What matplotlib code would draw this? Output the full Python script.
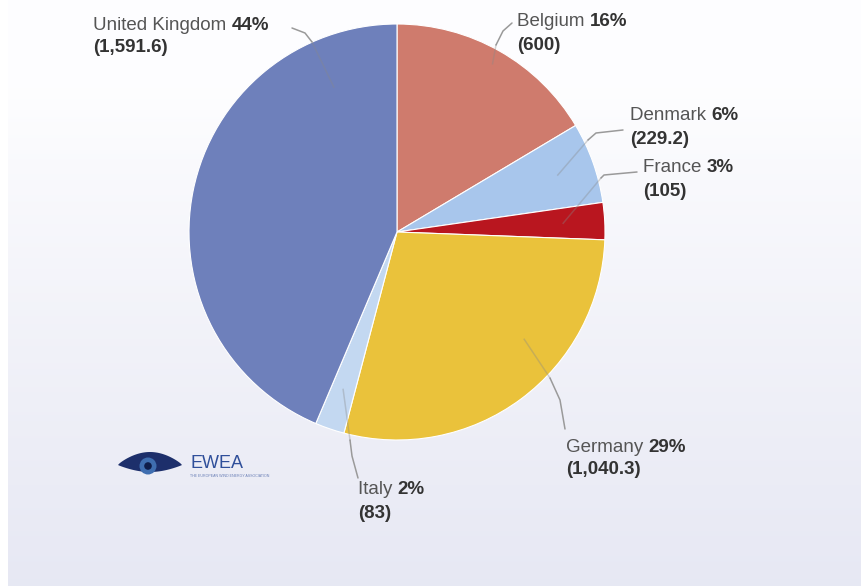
import numpy as np
import matplotlib
matplotlib.use("Agg")
import matplotlib.pyplot as plt
from matplotlib.patches import Ellipse, Circle, Rectangle, Polygon

# ---------------- data ----------------
countries = ["Belgium", "Denmark", "France", "Germany", "Italy", "United Kingdom"]
values = [600, 229.2, 105, 1040.3, 83, 1591.6]
pct_labels = ["16%", "6%", "3%", "29%", "2%", "44%"]
value_labels = ["(600)", "(229.2)", "(105)", "(1,040.3)", "(83)", "(1,591.6)"]
colors = ["#cf7b6d", "#a8c6ec", "#b9161f", "#eac23b", "#c3d8f1", "#6e80bb"]

W, H = 861, 586
plt.rcParams['font.family'] = ['Liberation Sans', 'DejaVu Sans']

fig = plt.figure(figsize=(W / 100, H / 100), dpi=100)
ax = fig.add_axes([0, 0, 1, 1])

def Y(y):
    return H - y

# pie
cx, cy, R = 397, 232, 208
wedges, _ = ax.pie(values, colors=colors, startangle=90, counterclock=False,
                   center=(cx, Y(cy)), radius=R, frame=True,
                   wedgeprops=dict(edgecolor='white', linewidth=0.8, zorder=2))
ax.set_xlim(0, W)
ax.set_ylim(0, H)
ax.set_aspect('equal')
ax.axis('off')

# background gradient
grad = np.linspace(0, 1, 256).reshape(-1, 1)
top = np.array([0.995, 0.995, 1.0])
bot = np.array([0.905, 0.91, 0.955])
t = np.clip((grad - 0.15) / 0.85, 0, 1) ** 0.9
img = top * (1 - t)[..., None] + bot * t[..., None]
img = img.reshape(256, 1, 3)
ax.imshow(img, extent=[8, W, 0, H], aspect='auto', zorder=0, origin='upper')
ax.add_patch(Rectangle((0, 0), 8, H, color='white', zorder=0.5, lw=0))
ax.set_xlim(0, W)
ax.set_ylim(0, H)

# label layout: text position (px), leader points outside pie (px, last one at pie edge),
# fraction along wedge and radial fraction for the inner end
layout = {
    "Belgium":        dict(xy=(517, 22), pts=[(512, 23), (503, 31), (496, 45)], t=0.5, r=0.93),
    "Denmark":        dict(xy=(630, 116), pts=[(623, 130), (596, 133), (588, 140)], t=0.5, r=0.82),
    "France":         dict(xy=(643, 168), pts=[(637, 172), (604, 175), (601, 178)], t=0.5, r=0.80),
    "Germany":        dict(xy=(566, 447), pts=[(565, 429), (560, 400), (550, 378)], t=0.63, r=0.80),
    "Italy":          dict(xy=(358, 490), pts=[(358, 478), (352, 456), (350, 440)], t=0.5, r=0.80),
    "United Kingdom": dict(xy=(93, 25), pts=[(292, 28), (305, 33), (312, 42)], t=0.15, r=0.76),
}

name_color = "#555555"
bold_color = "#333333"
fs = 13.5

for w, name, p, v in zip(wedges, countries, pct_labels, value_labels):
    L = layout[name]
    th = np.deg2rad(w.theta1 + L['t'] * (w.theta2 - w.theta1))
    ax_ = cx + L['r'] * R * np.cos(th)
    ay_ = Y(cy) + L['r'] * R * np.sin(th)
    xs = [q[0] for q in L['pts']]
    ys = [Y(q[1]) for q in L['pts']]
    ax.plot(xs, ys, color="#9a9a9a", lw=1.1, zorder=3, solid_capstyle='round')
    ax.plot([xs[-1], ax_], [ys[-1], ay_], color="#888888", alpha=0.35, lw=1.1, zorder=3)

    tx, ty = L['xy']
    t1 = ax.text(tx, Y(ty), name + " ", fontsize=fs, color=name_color,
                 va='center', ha='left', zorder=4)
    ax.annotate(p, xy=(1, 0), xycoords=t1, xytext=(0, 0), textcoords='offset points',
                fontsize=fs, fontweight='bold', color=bold_color, va='bottom', ha='left', zorder=4)
    ax.text(tx, Y(ty + 23), v, fontsize=fs, fontweight='bold', color=bold_color,
            va='center', ha='left', zorder=4)

# EWEA logo (approximate eye)
s = np.linspace(0, 1, 40)
ex0, ex1, ey = 118, 182, Y(465)
upper = [(ex0 + (ex1 - ex0) * u, ey + 13 * np.sin(np.pi * u) ** 0.8) for u in s]
lower = [(ex1 - (ex1 - ex0) * u, ey - 7 * np.sin(np.pi * u) ** 0.9) for u in s]
ax.add_patch(Polygon(upper + lower, closed=True, color="#1d2f6b", zorder=4, lw=0))
ax.add_patch(Circle((148, Y(466)), 8.5, color="#3f6eb0", zorder=4.1, lw=0))
ax.add_patch(Circle((148, Y(466)), 3.8, color="#0f1d4a", zorder=4.2, lw=0))
ax.text(190, Y(464), "EWEA", fontsize=13, color="#2f4f9a", va='center', ha='left', zorder=4)
ax.text(190, Y(476), "THE EUROPEAN WIND ENERGY ASSOCIATION", fontsize=2.6, color="#6a7fb6",
        va='center', ha='left', zorder=4)

fig.savefig("out.png", dpi=100)
